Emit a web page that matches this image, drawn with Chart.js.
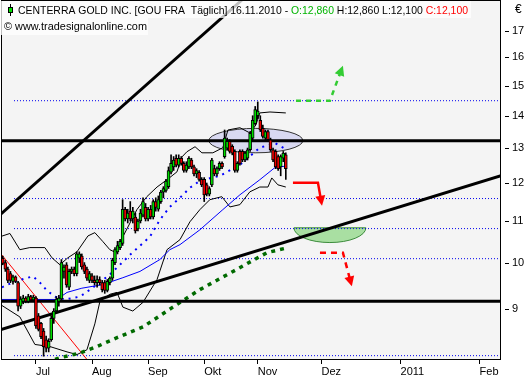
<!DOCTYPE html>
<html>
<head>
<meta charset="utf-8">
<script src="https://cdn.jsdelivr.net/npm/chart.js@4.4.0/dist/chart.umd.min.js"></script>
<style>
  html, body { margin: 0; padding: 0; background: #fff; }
  #wrap { width: 532px; height: 380px; }
</style>
</head>
<body>
<div id="wrap"><canvas id="chart" width="532" height="380"></canvas></div>
<script>
// bar slots: 0 = 1 Jul 2010, one slot per trading day (future part per calendar day)
const firstBar = -13;

const open = [
  10.10, 10.00, 9.85, 9.75, 9.58, 9.68, 9.55, 9.05, 9.15, 9.22,
  9.15, 9.25, 9.18, 9.22, 8.85, 8.70, 8.55, 8.38, 8.22, 8.38,
  8.80, 8.95, 9.15, 9.20, 9.80, 9.95, 9.45, 9.80, 9.85, 9.75,
  10.10, 10.15, 9.95, 9.85, 9.60, 9.70, 9.60, 9.55, 9.62, 9.55,
  9.55, 9.38, 9.55, 9.65, 10.00, 10.25, 10.35, 10.45, 11.30, 11.05,
  11.25, 11.05, 11.10, 10.80, 11.00, 11.15, 11.35, 11.05, 11.30, 11.10,
  11.50, 11.30, 11.50, 11.75, 11.80, 11.90, 12.30, 12.45, 12.70, 12.50,
  12.70, 12.55, 12.35, 12.45, 12.65, 12.45, 12.25, 12.30, 12.10, 12.10,
  11.95, 11.70, 11.95, 12.40, 12.25, 12.40, 12.55, 12.75, 13.00, 13.20,
  13.05, 12.90, 12.35, 12.90, 12.90, 12.65, 12.70, 12.95, 13.30, 13.75,
  14.00, 13.85, 13.60, 13.30, 13.50, 13.25, 12.95, 12.90, 12.75, 12.45,
  12.70, 12.80
];
const high = [
  10.15, 10.05, 9.90, 9.80, 9.72, 9.70, 9.58, 9.25, 9.28, 9.25,
  9.30, 9.28, 9.28, 9.25, 8.90, 8.72, 8.60, 8.45, 8.40, 8.85,
  9.00, 9.25, 9.28, 10.07, 9.95, 10.00, 9.85, 9.90, 9.90, 10.25,
  10.25, 10.20, 10.00, 9.90, 9.80, 9.75, 9.70, 9.70, 9.68, 9.60,
  9.60, 9.62, 9.68, 10.10, 10.35, 10.50, 10.55, 11.55, 11.35, 11.30,
  11.50, 11.35, 11.20, 11.05, 11.30, 11.60, 11.45, 11.35, 11.40, 11.55,
  11.60, 11.65, 11.80, 11.90, 12.10, 12.45, 12.80, 12.75, 12.80, 12.80,
  12.75, 12.60, 12.60, 12.75, 12.70, 12.50, 12.40, 12.35, 12.15, 12.15,
  12.00, 11.90, 12.70, 12.50, 12.45, 12.60, 12.60, 13.55, 13.30, 13.25,
  13.10, 12.95, 12.60, 12.95, 12.95, 12.90, 13.00, 13.50, 14.00, 14.30,
  14.45, 14.00, 13.70, 13.55, 13.55, 13.30, 13.00, 12.95, 12.80, 12.80,
  12.90, 12.86
];
const low = [
  9.95, 9.80, 9.55, 9.55, 9.52, 9.55, 8.95, 9.00, 9.10, 9.12,
  9.12, 9.15, 9.15, 8.60, 8.55, 8.40, 8.07, 8.15, 8.15, 8.35,
  8.70, 8.90, 9.05, 9.15, 9.65, 9.45, 9.40, 9.75, 9.70, 9.70,
  10.00, 9.85, 9.75, 9.60, 9.55, 9.55, 9.50, 9.45, 9.50, 9.35,
  9.32, 9.35, 9.50, 9.60, 9.95, 10.20, 10.30, 10.40, 11.00, 10.95,
  11.00, 10.95, 10.70, 10.75, 10.95, 11.10, 11.00, 11.00, 11.05, 11.05,
  11.25, 11.25, 11.45, 11.60, 11.75, 11.85, 12.25, 12.35, 12.45, 12.45,
  12.50, 12.30, 12.30, 12.40, 12.40, 12.20, 12.15, 12.05, 11.90, 11.50,
  11.65, 11.65, 11.90, 12.20, 12.20, 12.35, 12.40, 12.70, 12.95, 12.85,
  12.80, 12.30, 12.30, 12.50, 12.60, 12.60, 12.65, 12.90, 13.25, 13.70,
  13.90, 13.50, 13.30, 13.25, 13.20, 12.90, 12.60, 12.40, 12.35, 12.20,
  12.60, 12.10
];
const close = [
  9.98, 9.85, 9.60, 9.60, 9.68, 9.58, 9.05, 9.20, 9.22, 9.15,
  9.25, 9.18, 9.24, 8.65, 8.58, 8.44, 8.25, 8.22, 8.35, 8.80,
  8.95, 9.20, 9.22, 10.00, 9.90, 9.50, 9.80, 9.85, 9.75, 10.20,
  10.20, 9.90, 9.80, 9.65, 9.75, 9.60, 9.55, 9.62, 9.55, 9.40,
  9.38, 9.58, 9.65, 10.05, 10.30, 10.40, 10.50, 11.30, 11.05, 11.20,
  11.05, 11.25, 10.75, 11.00, 11.20, 11.50, 11.05, 11.30, 11.10, 11.50,
  11.35, 11.55, 11.75, 11.85, 12.05, 12.35, 12.55, 12.65, 12.50, 12.70,
  12.55, 12.35, 12.50, 12.70, 12.45, 12.25, 12.35, 12.10, 11.95, 11.68,
  11.70, 11.85, 12.65, 12.25, 12.40, 12.55, 12.45, 13.30, 13.20, 12.90,
  12.85, 12.35, 12.55, 12.55, 12.65, 12.85, 12.95, 13.45, 13.85, 14.20,
  14.15, 13.55, 13.35, 13.50, 13.25, 12.95, 12.65, 12.45, 12.40, 12.75,
  12.85, 12.40
];

const monthTicks = [0, 22, 44, 66, 87, 112, 143, 174];
const monthLabels = ["Jul", "Aug", "Sep", "Okt", "Nov", "Dez", "2011", "Feb"];
const priceTicks = [9, 10, 11, 12, 13, 14, 15, 16, 17];
const xMin = -13.7, xMax = 182.4;
const yMin = 8.0, yMax = 18.25;

// indicators [slot, price]
const maSolid = [[-14, 9.19], [8.2, 9.19], [12.2, 9.34], [18, 9.43], [26.3, 9.51], [34.1, 9.66],
  [40.8, 9.80], [48.6, 10.07], [52.5, 10.30], [56.5, 10.42], [64.3, 10.78], [73.3, 11.29],
  [80, 11.68], [87.8, 12.09], [93.7, 12.43], [98.4, 12.48]];
const maDotted = [[-13.3, 9.45], [-8.2, 9.58], [-1.2, 9.69], [1.6, 9.55], [4.3, 9.38], [7.5, 9.25],
  [11.4, 9.19], [17.3, 9.25], [22, 9.43], [29, 9.73], [36.9, 10.18], [44.7, 10.61], [48.6, 11.03],
  [52.5, 11.36], [56.5, 11.60], [60.4, 11.87], [64.3, 12.06], [72.2, 12.20], [80, 12.51],
  [87.8, 13.01], [93.7, 13.15], [98.4, 12.95]];
const bandUpper = [[-14.1, 10.61], [-10.2, 10.69], [-6.3, 10.30], [-2.4, 10.35], [3.5, 10.35],
  [6.3, 10.11], [9.4, 9.95], [12.5, 10.11], [16.1, 10.25], [20.4, 10.63], [23.1, 10.71],
  [26.3, 10.49], [29, 10.30], [31.4, 10.23], [34.1, 10.61], [39.6, 11.29], [43.5, 11.63],
  [47.5, 11.89], [51.4, 12.09], [55.3, 12.31], [57.3, 12.74], [59.2, 12.89], [62.4, 13.04],
  [65.1, 12.86], [69.4, 12.86], [73.3, 13.01], [75.3, 13.55], [80, 13.62], [83.9, 13.46],
  [86.3, 13.71], [87.8, 14.09], [91.8, 14.12], [98, 14.09]];
const bandLower = [[-14.1, 9.09], [-6.3, 8.83], [-0.4, 8.29], [5.5, 8.25], [12.2, 8.15],
  [16.1, 8.10], [20, 8.19], [23.1, 8.69], [25.1, 9.15], [29, 9.30], [31.8, 9.34], [34.1, 9.03],
  [38, 8.95], [42, 9.13], [47.5, 9.62], [51.4, 10.30], [56.5, 10.54], [60.4, 10.98],
  [64.3, 11.29], [68.2, 11.55], [72.9, 11.63], [76.1, 11.36], [80, 11.42], [83.9, 11.76],
  [87.8, 11.89], [91, 11.89], [92.5, 12.14], [94.9, 11.95], [98, 11.89]];
const maLong = [[7.5, 8.01], [9.4, 8.04], [17.3, 8.13], [23.9, 8.25], [31.8, 8.42], [42, 8.63],
  [53.7, 9.03], [64.3, 9.40], [77.3, 9.80], [90.6, 10.23], [97.6, 10.33]];

// drawn lines
const supportLevels = [13.22, 9.15];
const dottedLevels = [14.49, 11.58, 10.81, 10.09, 8.08];
const dottedStart = -8.6;
const trendUpper = [[-13.7, 11.18], [80.8, 18.25]];
const trendLower = [[-13.7, 8.58], [182.4, 12.2]];
const trendRed = [[-14.1, 10.23], [20, 8.01]];

// marks drawn by hand on the chart
const topZone = { x0: 67.8, x1: 104.7, top: 13.6, bottom: 12.86 };
const targetZone = { x0: 101.2, x1: 129.4, top: 10.83, bottom: 10.47 };
const arrowUp = [[102, 14.49], [115.3, 14.49], [120.4, 15.7]];
const arrowDown = [[100.8, 12.01], [110.6, 12.01], [112.2, 11.39]];
const arrowDownDashed = [[111.4, 10.23], [120.4, 10.23], [123.9, 9.47]];

const slots = open.map((_, k) => firstBar + k);

function line(points, color, width, dash, order) {
  return {
    type: "line",
    data: points.map(([x, y]) => ({ x, y })),
    borderColor: color,
    borderWidth: width,
    borderDash: dash || [],
    pointRadius: 0,
    tension: 0,
    fill: false,
    order: order,
  };
}

function drawArrow(ctx, pts, color, dash) {
  ctx.save();
  ctx.strokeStyle = color;
  ctx.fillStyle = color;
  ctx.lineWidth = 2.5;
  ctx.setLineDash(dash);
  const [ax, ay] = pts[pts.length - 2];
  const [bx, by] = pts[pts.length - 1];
  const ang = Math.atan2(by - ay, bx - ax);
  const len = 10, half = 5;
  ctx.beginPath();
  pts.forEach(([px, py], k) => {
    if (k === pts.length - 1) ctx.lineTo(px - Math.cos(ang) * len * 0.8, py - Math.sin(ang) * len * 0.8);
    else if (k) ctx.lineTo(px, py);
    else ctx.moveTo(px, py);
  });
  ctx.stroke();
  ctx.setLineDash([]);
  const cx = bx - Math.cos(ang) * len, cy = by - Math.sin(ang) * len;
  ctx.beginPath();
  ctx.moveTo(bx, by);
  ctx.lineTo(cx - Math.sin(ang) * half, cy + Math.cos(ang) * half);
  ctx.lineTo(cx + Math.sin(ang) * half, cy - Math.cos(ang) * half);
  ctx.closePath();
  ctx.fill();
  ctx.restore();
}

const framePlugin = {
  id: "frame",
  beforeDraw(chart) {
    const { ctx, chartArea: a } = chart;
    ctx.save();
    ctx.fillStyle = "#fff";
    ctx.fillRect(0, 0, chart.width, chart.height);
    ctx.fillStyle = "#f4f4f4";
    ctx.fillRect(a.left, a.top, a.right - a.left, a.bottom - a.top);
    ctx.restore();
  },
  beforeDatasetsDraw(chart) {
    const { ctx, scales: { x, y } } = chart;
    ctx.save();
    // lavender ellipse round the top
    let x0 = x.getPixelForValue(topZone.x0), x1 = x.getPixelForValue(topZone.x1);
    let y0 = y.getPixelForValue(topZone.top), y1 = y.getPixelForValue(topZone.bottom);
    ctx.beginPath();
    ctx.ellipse((x0 + x1) / 2, (y0 + y1) / 2, (x1 - x0) / 2, (y1 - y0) / 2, 0, 0, Math.PI * 2);
    ctx.fillStyle = "#d9d9f1";
    ctx.fill();
    ctx.strokeStyle = "#333";
    ctx.lineWidth = 1;
    ctx.stroke();
    // green half disc on the lower trendline
    x0 = x.getPixelForValue(targetZone.x0); x1 = x.getPixelForValue(targetZone.x1);
    y0 = y.getPixelForValue(targetZone.top); y1 = y.getPixelForValue(targetZone.bottom);
    ctx.beginPath();
    ctx.ellipse((x0 + x1) / 2, y0, (x1 - x0) / 2, y1 - y0, 0, 0, Math.PI);
    ctx.closePath();
    ctx.fillStyle = "#a9dfa2";
    ctx.fill();
    ctx.strokeStyle = "#3c8c3c";
    ctx.stroke();
    ctx.restore();
  },
  afterDatasetsDraw(chart) {
    const { ctx, chartArea: a, scales: { x, y } } = chart;
    const px = (pts) => pts.map(([u, v]) => [x.getPixelForValue(u), y.getPixelForValue(v)]);
    drawArrow(ctx, px(arrowUp), "#33cc33", [5, 5]);
    drawArrow(ctx, px(arrowDown), "#ff0000", []);
    drawArrow(ctx, px(arrowDownDashed), "#ff0000", [6, 5]);
    ctx.save();
    ctx.strokeStyle = "#000";
    ctx.lineWidth = 1;
    ctx.strokeRect(a.left + 0.5, a.top + 0.5, a.right - a.left - 1, a.bottom - a.top - 1);
    // short dashes left of the price labels
    ctx.fillStyle = "#000";
    priceTicks.forEach((v) => {
      ctx.fillRect(a.right + 4, Math.round(y.getPixelForValue(v)), 4, 1);
    });
    ctx.restore();
  },
  afterDraw(chart) {
    const { ctx, chartArea: a } = chart;
    ctx.save();
    ctx.font = "11px 'Liberation Sans', Arial, sans-serif";
    ctx.textBaseline = "alphabetic";
    const parts = [
      ["CENTERRA GOLD INC. [GOU FRA  T\u00e4glich] 16.11.2010 - ", "#000"],
      ["O:12,860", "#00b400"],
      [" H:12,860 L:12,100 ", "#000"],
      ["C:12,100", "#ff0000"],
    ];
    const full = parts.reduce((w, p) => w + ctx.measureText(p[0]).width, 0);
    const sx = 450 / full;
    const note = "\u00a9 www.tradesignalonline.com";
    const noteW = ctx.measureText(note).width;
    ctx.fillStyle = "rgba(255,255,255,0.75)";
    ctx.fillRect(a.left, a.top + 1, 470, 17);
    ctx.fillRect(a.left, a.top + 18, 147, 17);
    // legend icon
    ctx.fillStyle = "#000";
    ctx.fillRect(10, 4, 1, 12);
    ctx.fillRect(8, 7, 5, 6);
    ctx.fillStyle = "#00dd00";
    ctx.fillRect(9, 8, 3, 4);
    ctx.save();
    ctx.translate(18, 14);
    ctx.scale(sx, 1);
    let off = 0;
    parts.forEach(([t, c]) => {
      ctx.fillStyle = c;
      ctx.fillText(t, off, 0);
      off += ctx.measureText(t).width;
    });
    ctx.restore();
    ctx.save();
    ctx.translate(4, 30);
    ctx.scale(143 / noteW, 1);
    ctx.fillStyle = "#000";
    ctx.fillText(note, 0, 0);
    ctx.restore();
    ctx.fillStyle = "#000";
    ctx.font = "12px 'Liberation Sans', Arial, sans-serif";
    ctx.fillText("\u20ac", a.right + 14, 13);
    ctx.restore();
  },
};

const datasets = [
  {
    type: "bar",
    data: slots.map((s, k) => ({ x: s, y: [open[k], close[k]] })),
    backgroundColor: slots.map((_, k) => (close[k] >= open[k] ? "#00dd00" : "#ee0000")),
    borderColor: "#000",
    borderWidth: 1,
    borderSkipped: false,
    barThickness: 3,
    grouped: false,
    order: 0,
  },
  {
    type: "bar",
    data: slots.map((s, k) => ({ x: s, y: [low[k], high[k]] })),
    backgroundColor: "#000",
    barThickness: 1,
    grouped: false,
    order: 1,
  },
  line(trendUpper, "#000", 3, null, 3),
  line(trendLower, "#000", 3, null, 3),
  line(trendRed, "#ff0000", 1, null, 6),
  line(maSolid, "#0000ff", 1, null, 4),
  line(maDotted, "#0000ff", 2, [2, 5], 4),
  line(bandUpper, "#000", 1, null, 5),
  line(bandLower, "#000", 1, null, 5),
  line(maLong, "#006a00", 3.5, [4, 5], 4),
];
supportLevels.forEach((v) => datasets.push(line([[xMin, v], [xMax, v]], "#000", 3, null, 3)));
dottedLevels.forEach((v) => datasets.push(line([[dottedStart, v], [xMax, v]], "#0000ee", 1, [1, 2], 7)));

new Chart(document.getElementById("chart"), {
  type: "bar",
  data: { datasets },
  options: {
    responsive: false,
    animation: false,
    devicePixelRatio: 1,
    events: [],
    layout: { padding: { left: 1, top: 0, right: 0, bottom: 0 } },
    plugins: { legend: { display: false }, tooltip: { enabled: false } },
    scales: {
      x: {
        type: "linear",
        min: xMin,
        max: xMax,
        offset: false,
        afterBuildTicks: (s) => { s.ticks = monthTicks.map((v) => ({ value: v })); },
        afterFit: (s) => { s.height = 20; s.paddingLeft = 0; s.paddingRight = 0; },
        grid: { offset: false, drawOnChartArea: false, drawTicks: true, tickLength: 4, color: "#000" },
        border: { display: false },
        ticks: {
          autoSkip: false,
          maxRotation: 0,
          align: "start",
          padding: 1,
          color: "#000",
          font: { family: "'Liberation Sans', Arial, sans-serif", size: 11 },
          callback: (v, i) => monthLabels[i],
        },
      },
      y: {
        type: "logarithmic",
        position: "right",
        min: yMin,
        max: yMax,
        afterBuildTicks: (s) => { s.ticks = priceTicks.map((v) => ({ value: v })); },
        afterFit: (s) => { s.width = 31; s.paddingTop = 0; s.paddingBottom = 0; },
        grid: { drawOnChartArea: false, drawTicks: false },
        border: { display: false },
        ticks: {
          padding: 11,
          color: "#000",
          font: { family: "'Liberation Sans', Arial, sans-serif", size: 11 },
          callback: (v) => String(v),
        },
      },
    },
  },
  plugins: [framePlugin],
});
</script>
</body>
</html>
